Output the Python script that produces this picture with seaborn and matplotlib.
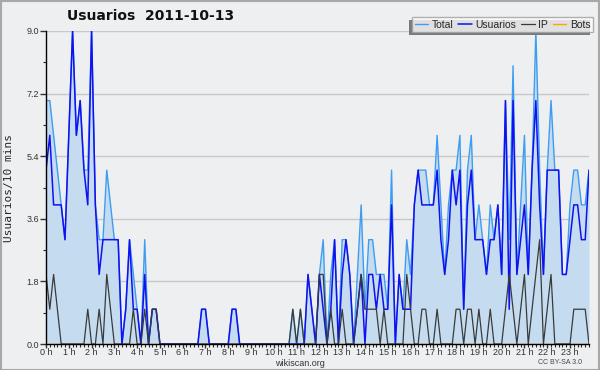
import numpy as np
import pandas as pd
import matplotlib
matplotlib.use("Agg")
import matplotlib.pyplot as plt
import seaborn as sns
from matplotlib.patches import Rectangle
from matplotlib.ticker import MultipleLocator

# 10-minute slots over the day (144 points)
total = [7,7,6,5,4,3,6,9,6,7,5,5,9,4,3,3,5,4,3,3,
         0,1,3,2,1,0,3,0,1,1,0,0,0,0,0,0,0,0,0,0,
         0,1,1,0,0,0,0,0,0,1,1,0,0,0,0,0,0,0,0,0,
         0,0,0,0,0,1,0,1,0,2,1,0,2,3,0,2,3,0,3,3,
         2,0,2,4,1,3,3,2,2,2,1,5,0,2,1,3,2,4,5,5,
         5,4,4,6,4,2,4,5,5,6,1,5,6,3,4,3,2,4,3,4,
         2,7,3,8,2,4,6,2,5,9,5,2,5,7,5,5,2,2,4,5,
         5,4,4,5]
usuarios = [5,6,4,4,4,3,6,9,6,7,5,4,9,4,2,3,3,3,3,3,
            0,1,3,1,1,0,2,0,1,1,0,0,0,0,0,0,0,0,0,0,
            0,1,1,0,0,0,0,0,0,1,1,0,0,0,0,0,0,0,0,0,
            0,0,0,0,0,0,0,0,0,2,1,0,2,1,0,1,3,0,2,3,
            2,0,1,2,0,2,2,1,2,1,1,4,0,2,1,1,1,4,5,4,
            4,4,4,5,3,2,3,5,4,5,1,4,5,3,3,3,2,3,3,4,
            2,7,1,7,2,3,4,2,5,7,4,2,5,5,5,5,2,2,3,4,
            4,3,3,5]
ip = [2,1,2,1,0,0,0,0,0,0,0,1,0,0,1,0,2,1,0,0,
      0,0,0,1,0,0,1,0,1,1,0,0,0,0,0,0,0,0,0,0,
      0,0,0,0,0,0,0,0,0,0,0,0,0,0,0,0,0,0,0,0,
      0,0,0,0,0,1,0,1,0,0,0,0,2,2,0,1,0,0,1,0,
      0,0,1,2,1,1,1,1,0,1,0,0,0,0,0,2,1,0,0,1,
      1,0,0,1,0,0,0,0,1,1,0,1,1,0,1,0,0,1,0,0,
      0,1,2,1,0,1,2,0,1,2,3,0,1,2,0,0,0,0,0,1,
      1,1,1,0]
bots = [0] * 144
hour_labels = [f"{h} h" for h in range(24)]

slot = np.arange(len(total))
df = pd.DataFrame({"slot": slot, "Total": total, "Usuarios": usuarios,
                   "IP": ip, "Bots": bots})

sns.set_style("white")
plt.rcParams["font.family"] = ["Liberation Sans", "DejaVu Sans"]

bg = "#eeeff1"
fig = plt.figure(figsize=(6, 3.7), dpi=100, facecolor=bg)
ax = fig.add_axes([46/600, 1-344/370, (589-46)/600, (344-31)/370])
ax.set_facecolor(bg)

ax.fill_between(df["slot"], df["Total"], 0, color="#c5dcf0", lw=0, zorder=1)
sns.lineplot(data=df, x="slot", y="Bots", ax=ax, color="#ffa500", lw=1,
             label="Bots", zorder=2, estimator=None)
sns.lineplot(data=df, x="slot", y="Total", ax=ax, color="#3d9df0", lw=1,
             label="Total", zorder=3, estimator=None)
sns.lineplot(data=df, x="slot", y="Usuarios", ax=ax, color="#1010f0", lw=1.1,
             label="Usuarios", zorder=4, estimator=None)
sns.lineplot(data=df, x="slot", y="IP", ax=ax, color="#3a3a3a", lw=0.9,
             label="IP", zorder=5, estimator=None)

ax.set_xlim(0, 143)
ax.set_ylim(0, 9.0)
ax.set_yticks([0, 1.8, 3.6, 5.4, 7.2, 9.0])
ax.set_yticklabels(["0.0", "1.8", "3.6", "5.4", "7.2", "9.0"])
ax.yaxis.set_minor_locator(MultipleLocator(0.9))
ax.set_xticks(np.arange(0, 144, 6))
ax.set_xticklabels(hour_labels)
ax.xaxis.set_minor_locator(MultipleLocator(1))
ax.grid(axis="y", which="major", color="#c8c8c8", lw=1, zorder=0)
ax.set_axisbelow(True)
for s in ["top", "right"]:
    ax.spines[s].set_visible(False)
for s in ["left", "bottom"]:
    ax.spines[s].set_color("black")
    ax.spines[s].set_linewidth(1)
    ax.spines[s].set_zorder(6)
ax.tick_params(axis="x", which="major", direction="out", length=3, width=1,
               labelsize=6.5, colors="#333333", pad=0, bottom=True)
ax.tick_params(axis="x", which="minor", direction="out", length=2.5, width=0.8,
               bottom=True)
ax.tick_params(axis="y", which="major", direction="out", length=4, width=1,
               labelsize=6.5, colors="#333333", pad=1, left=True)
ax.tick_params(axis="y", which="minor", direction="out", length=2, width=0.8,
               left=True)
ax.set_xlabel("")
ax.set_ylabel("Usuarios/10 mins", family="DejaVu Sans Mono", fontsize=8,
              labelpad=9)

handles, labels = ax.get_legend_handles_labels()
order = [labels.index(n) for n in ["Total", "Usuarios", "IP", "Bots"]]
if ax.get_legend():
    ax.get_legend().remove()
leg = fig.legend([handles[i] for i in order], [labels[i] for i in order],
                 ncol=4, loc="upper right", bbox_to_anchor=(593/600, 1-17/370),
                 fontsize=7.5, frameon=True, fancybox=False, borderpad=0.25,
                 handlelength=1.3, handletextpad=0.35, columnspacing=0.45,
                 borderaxespad=0)
leg.get_frame().set_facecolor("#fbfbfb")
leg.get_frame().set_edgecolor("#a0a0a0")
leg.get_frame().set_linewidth(1)
leg.set_zorder(10)

fig.canvas.draw()
bb = leg.get_window_extent()
fw, fh = fig.bbox.width, fig.bbox.height
fig.patches.append(Rectangle(((bb.x0-3)/fw, (bb.y0-3)/fh), bb.width/fw, bb.height/fh,
                             transform=fig.transFigure, facecolor="#7a7a7a",
                             edgecolor="none", zorder=9))

fig.text(151/600, 1-16/370, "Usuarios  2011-10-13", ha="center", va="center",
         fontsize=10, fontweight="bold", color="#111111",
         family=["DejaVu Sans"])
fig.text(300/600, 1-363/370, "wikiscan.org", ha="center", va="center",
         fontsize=6.5, color="#333333")
fig.text(560/600, 1-363/370, "CC BY-SA 3.0", ha="center", va="center",
         fontsize=5, color="#444444")
fig.patches.append(Rectangle((0.5/600, 0.5/370), 598.5/600, 368.5/370,
                             transform=fig.transFigure, facecolor="none",
                             edgecolor="#a8a8a8", lw=1.5, zorder=20))

fig.savefig("out.png", dpi=100, facecolor=bg)
